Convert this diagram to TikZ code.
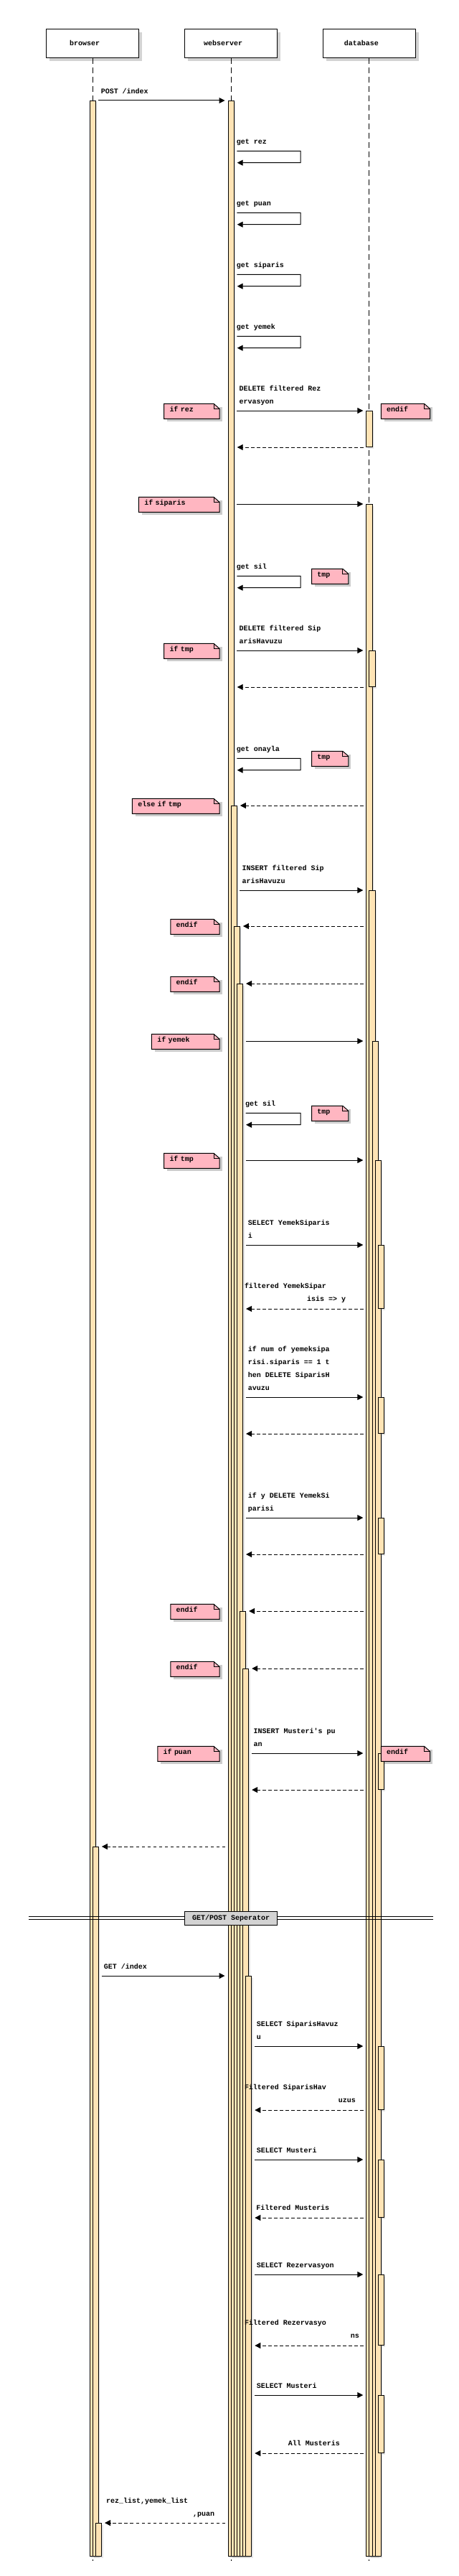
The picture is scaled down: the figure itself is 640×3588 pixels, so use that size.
\documentclass[tikz,border=0pt]{standalone}
\usepackage{fontspec}
\setmonofont{Liberation Mono}
\usepackage{tikz}
\usetikzlibrary{arrows.meta, calc, shadows}
\definecolor{actfill}{HTML}{FFE4B5}
\definecolor{notepink}{HTML}{FFB6C1}
\definecolor{sepgray}{HTML}{D3D3D3}
\newcommand{\seqfont}{\ttfamily\bfseries\fontsize{7.1pt}{12.8pt}\selectfont}
\newcommand{\dn}{\rule[-1mm]{0pt}{1mm}}
\newcommand{\notefold}[1]{%
  \fill[white] ($(#1.north east)+(-8,0)$) -- (#1.north east) -- ($(#1.north east)+(0,7)$) -- cycle;
  \draw (#1.south west) -- (#1.north west) -- ($(#1.north east)+(-8,0)$) -- ($(#1.north east)+(0,7)$) -- (#1.south east) -- cycle;
  \draw ($(#1.north east)+(-8,0)$) |- ($(#1.north east)+(0,7)$);}

\begin{document}
\begin{tikzpicture}[x=0.25mm, y=-0.25mm, line width=0.25mm,
    pbox/.style={draw, fill=white, minimum width=32.1mm, minimum height=10mm, inner sep=0,
                 font=\seqfont, drop shadow={shadow xshift=1.1mm, shadow yshift=-1.1mm, fill=gray, opacity=0.35}},
    bar/.style={draw, fill=actfill, inner sep=0, minimum width=2.05mm, anchor=north,
                drop shadow={shadow xshift=0.5mm, shadow yshift=-0.5mm, fill=gray, opacity=0.2}},
    life/.style={dash pattern=on 2mm off 1.25mm},
    msg/.style={-{Triangle[length=2mm, width=2mm]}, shorten <=0.9mm, shorten >=1mm},
    ret/.style={msg, dash pattern=on 1.1mm off 0.9mm},
    lbl/.style={font=\seqfont, inner sep=0, align=left, anchor=south west},
    lblr/.style={lbl, align=right, anchor=south east},
    note/.style={fill=notepink, font=\seqfont, inner xsep=1.85mm, inner ysep=0, minimum height=5mm,
                 text height=1.75mm, text depth=1.3mm, align=left, anchor=north east,
                 drop shadow={shadow xshift=1mm, shadow yshift=-1mm, fill=gray, opacity=0.4}},
    sepbox/.style={draw, fill=sepgray, minimum width=32.2mm, minimum height=4.85mm, inner sep=0, font=\seqfont}]
  \useasboundingbox (0,0) rectangle (640,3588);
  % participants and lifelines
  \node[pbox] (br) at (129.2,60.3) {browser\hspace*{5.5mm}};
  \node[pbox] (ws) at (322.1,60.3) {webserver\hspace*{5.5mm}};
  \node[pbox] (db) at (514.9,60.3) {database\hspace*{5.5mm}};
  \coordinate (brend) at (129.2,3567);
  \coordinate (wsend) at (322.1,3567);
  \coordinate (dbend) at (514.9,3567);
  \draw[life] (br.south) -- (brend);
  \draw[life] (ws.south) -- (wsend);
  \draw[life] (db.south) -- (dbend);
  % activation bars
  \node[bar, minimum height=855mm]   (b1) at (129.2,140)  {};
  \node[bar, minimum height=247mm]   (b2) at (133.3,2572) {};
  \node[bar, minimum height=11.5mm]  (b3) at (137.4,3514) {};
  \node[bar, minimum height=855mm]   (w1) at (322.1,140)  {};
  \node[bar, minimum height=609.5mm] (w2) at (326.2,1122) {};
  \node[bar, minimum height=567.5mm] (w3) at (330.3,1290) {};
  \node[bar, minimum height=547.5mm] (w4) at (334.4,1370) {};
  \node[bar, minimum height=329mm]   (w5) at (338.5,2244) {};
  \node[bar, minimum height=309mm]   (w6) at (342.6,2324) {};
  \node[bar, minimum height=202mm]   (w7) at (346.7,2752) {};
  \node[bar, minimum height=12.5mm]  (d1) at (514.9,572)  {};
  \node[bar, minimum height=714.5mm] (d2) at (514.9,702)  {};
  \node[bar, minimum height=12.5mm]  (d3) at (519.0,906)  {};
  \node[bar, minimum height=580mm]   (d4) at (519.0,1240) {};
  \node[bar, minimum height=527.5mm] (d5) at (523.1,1450) {};
  \node[bar, minimum height=486mm]   (d6) at (527.2,1616) {};
  \node[bar, minimum height=22mm]    (d7) at (531.3,1734) {};
  \node[bar, minimum height=12.5mm]  (d8) at (531.3,1946) {};
  \node[bar, minimum height=12.5mm]  (d9) at (531.3,2114) {};
  \node[bar, minimum height=12.5mm]  (d10) at (531.3,2442) {};
  \node[bar, minimum height=22mm]    (d11) at (531.3,2850) {};
  \node[bar, minimum height=20mm]    (d12) at (531.3,3008) {};
  \node[bar, minimum height=24.5mm]  (d13) at (531.3,3168) {};
  \node[bar, minimum height=20mm]    (d14) at (531.3,3336) {};
  % POST part
  \draw[msg] (b1.north east) -- (w1.north west);
  \node[lbl] (lpost) at (140.3,135) {POST /index\dn};
  \draw[msg] (w1.east |- 0,210.3) -- ++(92.3,0) -- ++(0,16.4) -- (w1.east |- 0,226.7);
  \node[lbl] (lrez) at (329.4,205.3) {get rez\dn};
  \draw[msg] (w1.east |- 0,296.3) -- ++(92.3,0) -- ++(0,16.4) -- (w1.east |- 0,312.7);
  \node[lbl] (lpuan) at (329.4,291.3) {get puan\dn};
  \draw[msg] (w1.east |- 0,382.3) -- ++(92.3,0) -- ++(0,16.4) -- (w1.east |- 0,398.7);
  \node[lbl] (lsip) at (329.4,377.3) {get siparis\dn};
  \draw[msg] (w1.east |- 0,468.3) -- ++(92.3,0) -- ++(0,16.4) -- (w1.east |- 0,484.7);
  \node[lbl] (lyem) at (329.4,463.3) {get yemek\dn};
  \draw[msg] (w1.east |- d1.north) -- (d1.north west);
  \node[lbl] (ldelrez) at (333.1,567) {DELETE filtered Rez\\ervasyon\dn};
  \node[note, text width=15.4mm] (nrez) at (306,562.3) {if rez}; \notefold{nrez}
  \node[note, text width=13.1mm, anchor=north west] (nrezend) at (531.3,562.3) {endif}; \notefold{nrezend}
  \draw[ret] (d1.south west) -- (w1.east |- d1.south);
  \draw[msg] (w1.east |- d2.north) -- (d2.north west);
  \node[note, text width=24.2mm] (nsip) at (306,692.3) {if siparis}; \notefold{nsip}
  \draw[msg] (w1.east |- 0,802.3) -- ++(92.3,0) -- ++(0,16.4) -- (w1.east |- 0,818.7);
  \node[lbl] (lsil) at (329.4,797.3) {get sil\dn};
  \node[note, text width=8.9mm, anchor=north west] (ntmpa) at (434.5,792.3) {tmp}; \notefold{ntmpa}
  \draw[msg] (w1.east |- d3.north) -- (d2.west |- d3.north);
  \node[lbl] (ldelsip) at (333.1,901) {DELETE filtered Sip\\arisHavuzu\dn};
  \node[note, text width=15.4mm] (ntmpb) at (306,896.3) {if tmp}; \notefold{ntmpb}
  \draw[ret] (d2.west |- d3.south) -- (w1.east |- d3.south);
  \draw[msg] (w1.east |- 0,1056.3) -- ++(92.3,0) -- ++(0,16.4) -- (w1.east |- 0,1072.7);
  \node[lbl] (lonay) at (329.4,1051.3) {get onayla\dn};
  \node[note, text width=8.9mm, anchor=north west] (ntmpc) at (434.5,1046.3) {tmp}; \notefold{ntmpc}
  \draw[ret] (d2.west |- w2.north) -- (w2.north east);
  \node[note, text width=26.45mm] (nelse) at (306,1112.3) {else if tmp}; \notefold{nelse}
  \draw[msg] (w2.east |- d4.north) -- (d2.west |- d4.north);
  \node[lbl] (linssip) at (337.2,1235) {INSERT filtered Sip\\arisHavuzu\dn};
  \draw[ret] (d2.west |- w3.north) -- (w3.north east);
  \node[note, text width=13.1mm] (nenda) at (306,1280.3) {endif}; \notefold{nenda}
  \draw[ret] (d2.west |- w4.north) -- (w4.north east);
  \node[note, text width=13.1mm] (nendb) at (306,1360.3) {endif}; \notefold{nendb}
  \draw[msg] (w4.east |- d5.north) -- (d2.west |- d5.north);
  \node[note, text width=19.7mm] (nyemek) at (306,1440.3) {if yemek}; \notefold{nyemek}
  \draw[msg] (w4.east |- 0,1550.3) -- ++(80,0) -- ++(0,16.4) -- (w4.east |- 0,1566.7);
  \node[lbl] (lsilb) at (341.7,1545.3) {get sil\dn};
  \node[note, text width=8.9mm, anchor=north west] (ntmpd) at (434.5,1540.3) {tmp}; \notefold{ntmpd}
  \draw[msg] (w4.east |- d6.north) -- (d2.west |- d6.north);
  \node[note, text width=15.4mm] (ntmpe) at (306,1606.3) {if tmp}; \notefold{ntmpe}
  \draw[msg] (w4.east |- d7.north) -- (d2.west |- d7.north);
  \node[lbl] (lselys) at (345.4,1729) {SELECT YemekSiparis\\i\dn};
  \draw[ret] (d2.west |- d7.south) -- (w4.east |- d7.south);
  \node[lbl] (lfilys) at (340.5,1799) {filtered YemekSipar\dn};
  \node[lblr] (lfilysb) at (482.5,1817) {isis => y\dn};
  \draw[msg] (w4.east |- d8.north) -- (d2.west |- d8.north);
  \node[lbl] (lnum) at (345.4,1941) {if num of yemeksipa\\risi.siparis == 1 t\\hen DELETE SiparisH\\avuzu\dn};
  \draw[ret] (d2.west |- d8.south) -- (w4.east |- d8.south);
  \draw[msg] (w4.east |- d9.north) -- (d2.west |- d9.north);
  \node[lbl] (ldelys) at (345.4,2109) {if y DELETE YemekSi\\parisi\dn};
  \draw[ret] (d2.west |- d9.south) -- (w4.east |- d9.south);
  \draw[ret] (d2.west |- w5.north) -- (w5.north east);
  \node[note, text width=13.1mm] (nendc) at (306,2234.3) {endif}; \notefold{nendc}
  \draw[ret] (d2.west |- w6.north) -- (w6.north east);
  \node[note, text width=13.1mm] (nendd) at (306,2314.3) {endif}; \notefold{nendd}
  \draw[msg] (w6.east |- d10.north) -- (d2.west |- d10.north);
  \node[lbl] (linspuan) at (353.2,2437) {INSERT Musteri's pu\\an\dn};
  \node[note, text width=17.6mm] (npuan) at (306,2432.3) {if puan}; \notefold{npuan}
  \node[note, text width=13.1mm, anchor=north west] (npuanend) at (531.3,2432.3) {endif}; \notefold{npuanend}
  \draw[ret] (d2.west |- d10.south) -- (w6.east |- d10.south);
  \draw[ret] (w1.west |- b2.north) -- (b2.north east);
  % separator
  \draw (40.2,2669.3) -- (603.5,2669.3);
  \draw (40.2,2673.3) -- (603.5,2673.3);
  \node[sepbox] (sep) at (322.1,2672) {GET/POST Seperator};
  % GET part
  \draw[msg] (b2.east |- w7.north) -- (w1.west |- w7.north);
  \node[lbl] (lget) at (144.4,2747) {GET /index\dn};
  \draw[msg] (w7.east |- d11.north) -- (d2.west |- d11.north);
  \node[lbl] (lselsh) at (357.3,2845) {SELECT SiparisHavuz\\u\dn};
  \draw[ret] (d2.west |- d11.south) -- (w7.east |- d11.south);
  \node[lbl] (lfilsh) at (340.5,2915) {Filtered SiparisHav\dn};
  \node[lblr] (lfilshb) at (496.4,2933) {uzus\dn};
  \draw[msg] (w7.east |- d12.north) -- (d2.west |- d12.north);
  \node[lbl] (lselm) at (357.3,3003) {SELECT Musteri\dn};
  \draw[ret] (d2.west |- d12.south) -- (w7.east |- d12.south);
  \node[lbl] (lfilm) at (356.9,3083) {Filtered Musteris\dn};
  \draw[msg] (w7.east |- d13.north) -- (d2.west |- d13.north);
  \node[lbl] (lselr) at (357.3,3163) {SELECT Rezervasyon\dn};
  \draw[ret] (d2.west |- d13.south) -- (w7.east |- d13.south);
  \node[lbl] (lfilr) at (340.5,3243) {Filtered Rezervasyo\dn};
  \node[lblr] (lfilrb) at (501.3,3261) {ns\dn};
  \draw[msg] (w7.east |- d14.north) -- (d2.west |- d14.north);
  \node[lbl] (lselmb) at (357.3,3331) {SELECT Musteri\dn};
  \draw[ret] (d2.west |- d14.south) -- (w7.east |- d14.south);
  \node[lblr] (lallm) at (474.3,3411) {All Musteris\dn};
  \draw[ret] (w1.west |- b3.north) -- (b3.north east);
  \node[lbl] (llist) at (147.7,3491) {rez\_list,yemek\_list\dn};
  \node[lblr] (llistb) at (299.5,3509) {,puan\dn};
\end{tikzpicture}
\end{document}
